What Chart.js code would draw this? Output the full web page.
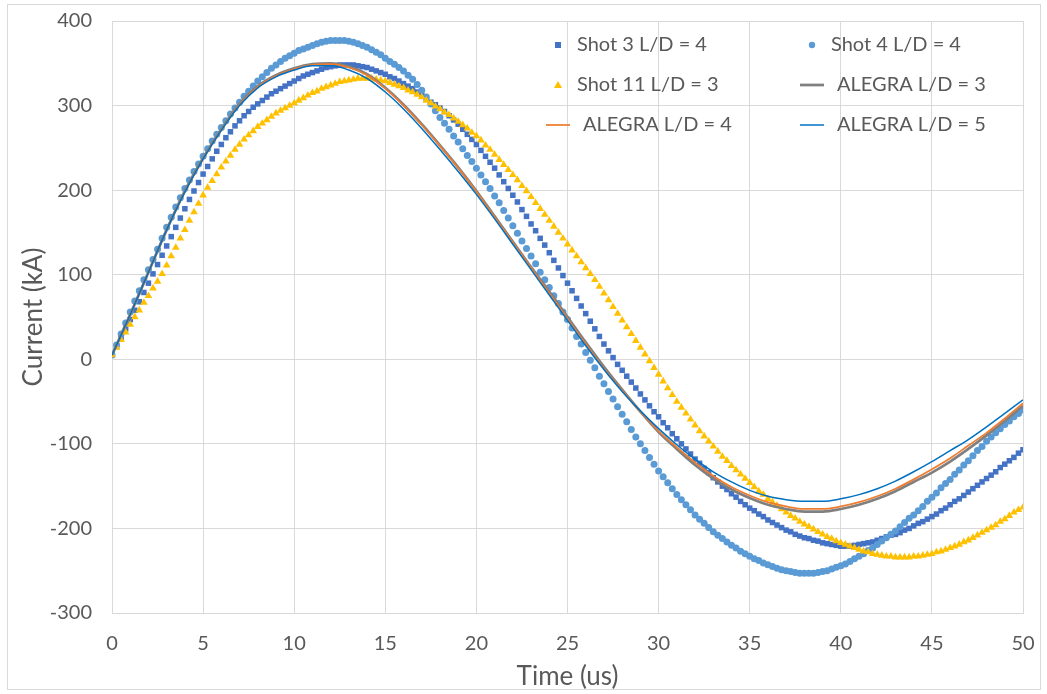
<!DOCTYPE html>
<html>
<head>
<meta charset="utf-8">
<script src="https://cdn.jsdelivr.net/npm/chart.js@4.4.1/dist/chart.umd.min.js"></script>
<style>
  html, body { margin: 0; padding: 0; background: #ffffff; }
  #wrap { position: relative; width: 1047px; height: 694px; }
</style>
</head>
<body>
<div id="wrap"><canvas id="chart" width="1047" height="694"></canvas></div>
<script>
// measured shots are sampled every 0.25 us, ALEGRA runs every 1 us
var shotStep = 0.25;
var alegraStep = 1;

var seriesLabels = ["Shot 3 L/D = 4", "Shot 4 L/D = 4", "Shot 11 L/D = 3",
                    "ALEGRA L/D = 3", "ALEGRA L/D = 4", "ALEGRA L/D = 5"];

// Current (kA), t = 0 .. 50 us, one row per 5 us
var shot3 = [
    5, 15, 26, 36, 47, 58, 68, 79, 90, 101, 112, 123, 134, 145, 156, 167, 178, 189, 199, 209,
    219, 228, 237, 246, 254, 262, 269, 276, 282, 288, 293, 298, 302, 306, 310, 314, 317, 320, 323, 326,
    329, 332, 335, 337, 339, 341, 343, 345, 346, 347, 348, 348, 348, 348, 347, 346, 345, 343, 341, 339,
    337, 334, 332, 329, 326, 323, 320, 316, 312, 308, 304, 301, 297, 293, 288, 283, 278, 272, 266, 260,
    254, 247, 240, 233, 226, 218, 210, 202, 194, 186, 177, 169, 160, 152, 143, 135, 126, 117, 108, 99,
    90, 81, 72, 63, 54, 45, 36, 27, 18, 10, 2, -6, -13, -20, -27, -34, -41, -48, -55, -62,
    -68, -75, -81, -88, -94, -100, -106, -112, -118, -123, -129, -134, -140, -145, -150, -154, -159, -163, -168, -172,
    -176, -179, -183, -186, -190, -193, -196, -199, -202, -204, -207, -209, -211, -212, -214, -215, -217, -218, -219, -220,
    -221, -221, -221, -220, -219, -218, -217, -216, -214, -212, -210, -208, -207, -205, -202, -200, -197, -194, -192, -189,
    -186, -183, -179, -176, -172, -168, -165, -161, -157, -153, -149, -145, -141, -137, -133, -128, -124, -120, -116, -111,
    -107
];
var shot4 = [
    5, 17, 30, 43, 56, 69, 81, 94, 106, 118, 130, 143, 156, 168, 180, 191, 202, 212, 222, 231,
    240, 249, 258, 266, 274, 282, 290, 297, 304, 311, 317, 323, 329, 334, 339, 344, 348, 352, 356, 359,
    362, 365, 367, 369, 371, 373, 375, 376, 377, 377, 377, 377, 376, 375, 373, 371, 369, 366, 363, 360,
    356, 352, 349, 345, 341, 336, 331, 325, 318, 310, 302, 294, 286, 279, 272, 264, 257, 249, 241, 234,
    226, 218, 210, 202, 193, 185, 176, 167, 158, 149, 140, 131, 122, 113, 103, 94, 85, 75, 66, 56,
    47, 37, 27, 18, 8, -1, -10, -20, -29, -38, -47, -56, -65, -74, -83, -92, -100, -108, -116, -124,
    -132, -139, -146, -153, -160, -166, -172, -178, -184, -189, -194, -199, -204, -208, -212, -216, -220, -223, -227, -230,
    -233, -236, -238, -241, -243, -245, -247, -249, -250, -251, -252, -253, -253, -253, -253, -252, -251, -250, -248, -246,
    -244, -242, -239, -236, -233, -230, -226, -223, -219, -215, -211, -207, -203, -198, -193, -188, -184, -179, -174, -168,
    -163, -158, -152, -147, -142, -136, -131, -125, -120, -114, -108, -103, -97, -92, -87, -82, -77, -73, -68, -64,
    -60
];
var shot11 = [
    5, 14, 23, 32, 41, 50, 58, 67, 75, 84, 92, 101, 111, 122, 132, 143, 153, 164, 174, 184,
    194, 203, 211, 219, 227, 234, 241, 248, 254, 260, 265, 270, 275, 279, 283, 287, 291, 294, 297, 300,
    303, 306, 309, 312, 315, 317, 320, 322, 324, 326, 328, 329, 330, 331, 332, 332, 332, 332, 331, 330,
    329, 327, 325, 323, 321, 318, 316, 313, 310, 306, 303, 299, 296, 292, 289, 285, 281, 277, 273, 268,
    264, 259, 253, 248, 242, 236, 230, 224, 218, 212, 205, 199, 192, 185, 178, 171, 164, 157, 150, 143,
    136, 129, 122, 115, 108, 101, 94, 86, 78, 70, 62, 54, 46, 38, 30, 22, 14, 6, -2, -10,
    -18, -26, -34, -42, -50, -57, -64, -71, -78, -85, -91, -97, -103, -109, -115, -120, -126, -131, -136, -141,
    -146, -151, -156, -160, -165, -169, -173, -177, -181, -185, -188, -192, -195, -198, -201, -204, -207, -210, -212, -215,
    -217, -219, -221, -223, -225, -227, -228, -230, -231, -232, -233, -233, -234, -234, -234, -234, -233, -233, -232, -231,
    -230, -228, -227, -225, -223, -221, -219, -216, -214, -211, -208, -205, -202, -199, -196, -192, -189, -185, -181, -178,
    -175
];
var alegra3 = [
    5, 53, 103, 153, 199, 238, 272, 302, 323, 336,
    344, 349, 350, 346, 337, 321, 301, 278, 253, 227,
    199, 169, 139, 109, 80, 50, 20, -9, -36, -62,
    -86, -106, -125, -141, -154, -164, -172, -177, -180, -180,
    -177, -172, -165, -156, -145, -134, -121, -106, -90, -73,
    -55
];
var alegra4 = [
    5, 53, 103, 153, 198, 237, 271, 301, 322, 335,
    343, 348, 349, 345, 336, 320, 300, 277, 252, 226,
    198, 168, 138, 108, 78, 48, 18, -11, -37, -62,
    -85, -104, -122, -138, -151, -161, -169, -174, -177, -177,
    -174, -169, -162, -153, -142, -130, -117, -102, -87, -70,
    -52
];
var alegra5 = [
    5, 53, 103, 153, 198, 237, 271, 300, 321, 334,
    342, 347, 347, 342, 332, 316, 296, 273, 248, 222,
    195, 166, 136, 106, 76, 46, 16, -12, -38, -61,
    -82, -101, -118, -133, -145, -155, -162, -166, -168, -168,
    -165, -160, -153, -144, -133, -121, -108, -95, -80, -64,
    -48
];

function toPoints(values, step) {
    return values.map(function (v, i) { return { x: i * step, y: v }; });
}

var textColor = "#595959";
var gridColor = "#d9d9d9";
var fontFamily = "Lato, 'Liberation Sans', sans-serif";

// where each legend entry sits (canvas px)
var legendSlots = [
    { x: 558, y: 45 }, { x: 812, y: 45 },
    { x: 558, y: 85 }, { x: 812, y: 85 },
    { x: 558, y: 125 }, { x: 812, y: 125 }
];

var legendPlugin = {
    id: "excel_legend",
    afterDraw: function (chart) {
        var ctx = chart.ctx;
        ctx.save();
        ctx.font = "20px " + fontFamily;
        ctx.textBaseline = "middle";
        ctx.textAlign = "left";
        chart.data.datasets.forEach(function (ds, i) {
            var slot = legendSlots[i];
            var textX;
            if (ds.showLine === false) {
                ctx.fillStyle = ds.pointBackgroundColor;
                ctx.beginPath();
                if (ds.pointStyle === "rect") {
                    ctx.rect(slot.x - 3, slot.y - 3, 6, 6);
                } else if (ds.pointStyle === "circle") {
                    ctx.arc(slot.x, slot.y, 3.2, 0, Math.PI * 2);
                } else {
                    ctx.moveTo(slot.x, slot.y - 4);
                    ctx.lineTo(slot.x + 4, slot.y + 3);
                    ctx.lineTo(slot.x - 4, slot.y + 3);
                    ctx.closePath();
                }
                ctx.fill();
                textX = slot.x + 19;
            } else {
                ctx.strokeStyle = ds.borderColor;
                ctx.lineWidth = ds.borderWidth;
                ctx.beginPath();
                ctx.moveTo(slot.x - 12, slot.y);
                ctx.lineTo(slot.x + 12, slot.y);
                ctx.stroke();
                textX = slot.x + 25;
            }
            ctx.fillStyle = textColor;
            ctx.fillText(ds.label, textX, slot.y);
        });
        ctx.restore();
    }
};

var framePlugin = {
    id: "frame",
    beforeDraw: function (chart) {
        var ctx = chart.ctx;
        ctx.save();
        ctx.fillStyle = "#ffffff";
        ctx.fillRect(0, 0, chart.width, chart.height);
        ctx.strokeStyle = gridColor;
        ctx.lineWidth = 1;
        ctx.strokeRect(7.5, 4.5, 1033, 685);
        ctx.restore();
    }
};

var ctx = document.getElementById("chart").getContext("2d");
var chart = new Chart(ctx, {
    type: "line",
    data: {
        datasets: [
            {
                label: seriesLabels[0],
                data: toPoints(shot3, shotStep),
                showLine: false,
                pointStyle: "rect",
                pointRadius: 3.9,
                pointBorderWidth: 0,
                pointBackgroundColor: "#4472c4",
                borderColor: "#4472c4",
                order: 6
            },
            {
                label: seriesLabels[1],
                data: toPoints(shot4, shotStep),
                showLine: false,
                pointStyle: "circle",
                pointRadius: 3.5,
                pointBorderWidth: 0,
                pointBackgroundColor: "#5b9bd5",
                borderColor: "#5b9bd5",
                order: 5
            },
            {
                label: seriesLabels[2],
                data: toPoints(shot11, shotStep),
                showLine: false,
                pointStyle: "triangle",
                pointRadius: 4.4,
                pointBorderWidth: 0,
                pointBackgroundColor: "#ffc000",
                borderColor: "#ffc000",
                order: 4
            },
            {
                label: seriesLabels[3],
                data: toPoints(alegra3, alegraStep),
                borderColor: "#808080",
                borderWidth: 2.75,
                pointRadius: 0,
                cubicInterpolationMode: "monotone",
                order: 3
            },
            {
                label: seriesLabels[4],
                data: toPoints(alegra4, alegraStep),
                borderColor: "#ed7d31",
                borderWidth: 1.75,
                pointRadius: 0,
                cubicInterpolationMode: "monotone",
                order: 2
            },
            {
                label: seriesLabels[5],
                data: toPoints(alegra5, alegraStep),
                borderColor: "#0070c0",
                borderWidth: 1.5,
                pointRadius: 0,
                cubicInterpolationMode: "monotone",
                order: 1
            }
        ]
    },
    options: {
        responsive: false,
        maintainAspectRatio: false,
        animation: false,
        devicePixelRatio: 1,
        layout: { padding: { left: 0, top: 21, right: 24, bottom: 0 } },
        plugins: {
            legend: { display: false },
            tooltip: { enabled: false }
        },
        scales: {
            x: {
                type: "linear",
                min: 0,
                max: 50,
                afterFit: function (scale) {
                    scale.height = 81;
                    scale.paddingLeft = 0;
                    scale.paddingRight = 0;
                },
                ticks: {
                    stepSize: 5,
                    padding: 19,
                    color: textColor,
                    font: { family: fontFamily, size: 20 },
                    maxRotation: 0
                },
                grid: { color: gridColor, drawTicks: false },
                border: { color: gridColor },
                title: {
                    display: true,
                    text: "Time (us)",
                    color: textColor,
                    font: { family: fontFamily, size: 26 },
                    padding: { top: 0, bottom: 2 }
                }
            },
            y: {
                min: -300,
                max: 400,
                afterFit: function (scale) {
                    scale.width = 112;
                    scale.paddingTop = 0;
                    scale.paddingBottom = 0;
                },
                ticks: {
                    stepSize: 100,
                    padding: 20,
                    color: textColor,
                    font: { family: fontFamily, size: 20 }
                },
                grid: { color: gridColor, drawTicks: false },
                border: { color: gridColor },
                title: {
                    display: true,
                    text: "Current (kA)",
                    color: textColor,
                    font: { family: fontFamily, size: 26 },
                    padding: { top: 18, bottom: 0 }
                }
            }
        }
    },
    plugins: [framePlugin, legendPlugin]
});
</script>
</body>
</html>
